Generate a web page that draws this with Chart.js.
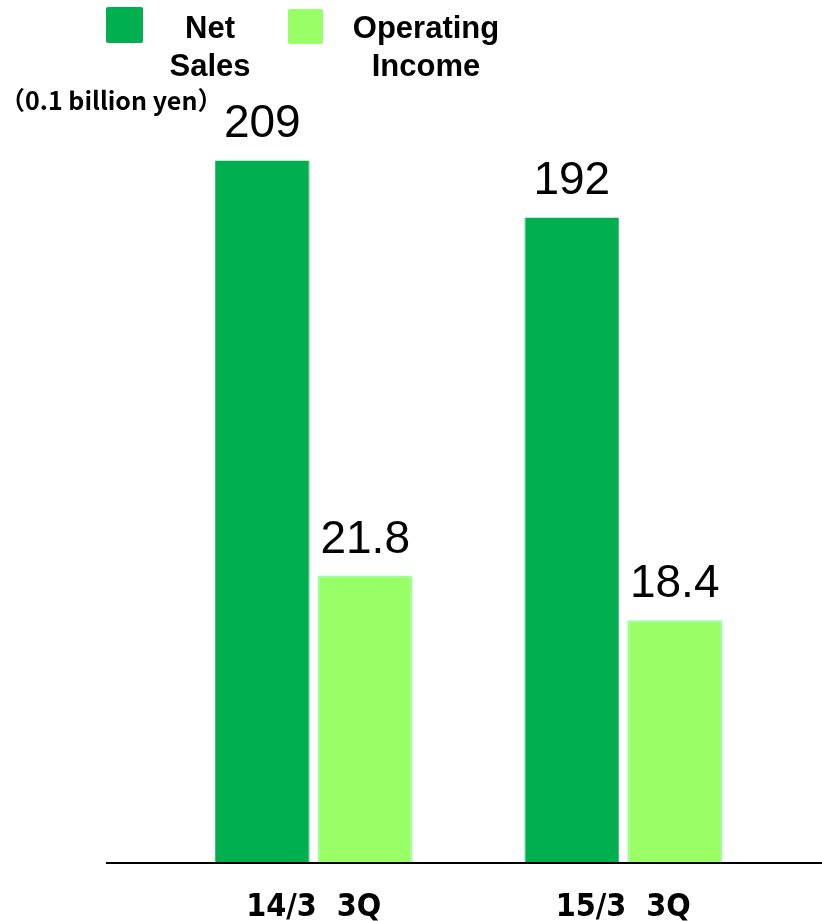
<!DOCTYPE html>
<html>
<head>
<meta charset="utf-8">
<script src="https://cdn.jsdelivr.net/npm/chart.js@4.4.1/dist/chart.umd.min.js"></script>
<style>
    html, body { margin: 0; padding: 0; background: #FFFFFF; }
    #main-graph { display: block; }
</style>
</head>
<body>
<canvas id="main-graph"></canvas>
<script>
const graph_width = 822;
const graph_height = 921;

// quarters and values, in 0.1 billion yen
const periods = ["14/3  3Q", "15/3  3Q"];
const net_sales = [209, 192];
const operating_income = [21.8, 18.4];

const net_sales_label = ["Net", "Sales"];
const income_label = ["Operating", "Income"];
const unit_text = "（0.1 billion yen）";

let main_graph;
let graph_ctx;
let myChart;

// value printed over every bar
const valueLabels = {
    id: "valueLabels",
    afterDatasetsDraw(chart) {
        const ctx = chart.ctx;
        ctx.save();
        ctx.fillStyle = "#000000";
        ctx.font = "46px 'Liberation Sans', Arial, sans-serif";
        ctx.textAlign = "center";
        ctx.textBaseline = "alphabetic";
        chart.data.datasets.forEach((dataset, d) => {
            const meta = chart.getDatasetMeta(d);
            meta.data.forEach((bar, i) => {
                const v = dataset.data[i];
                const txt = d == 0 ? String(v) : v.toFixed(1);
                ctx.fillText(txt, bar.x, bar.y - 23);
            });
        });
        ctx.restore();
    }
};

// legend with two-line names, unit note and the base line
const topLegend = {
    id: "topLegend",
    afterDraw(chart) {
        const ctx = chart.ctx;
        ctx.save();

        const items = [
            {box: [106, 7, 37, 36], cx: 210, lines: net_sales_label, ds: 0},
            {box: [288, 9, 35, 35], cx: 426, lines: income_label, ds: 1}
        ];
        items.forEach(item => {
            ctx.fillStyle = chart.data.datasets[item.ds].backgroundColor;
            ctx.beginPath();
            ctx.roundRect(item.box[0], item.box[1], item.box[2], item.box[3], 2);
            ctx.fill();
            ctx.fillStyle = "#000000";
            ctx.font = "bold 31px 'Liberation Sans', Arial, sans-serif";
            ctx.textAlign = "center";
            item.lines.forEach((line, k) => {
                ctx.fillText(line, item.cx, 38 + k * 38);
            });
        });

        ctx.font = "bold 25px 'Noto Sans CJK JP', sans-serif";
        ctx.textAlign = "left";
        ctx.fillText(unit_text, 0, 110);

        const y = chart.chartArea.bottom + 1;
        ctx.strokeStyle = "#000000";
        ctx.lineWidth = 2;
        ctx.beginPath();
        ctx.moveTo(106, y);
        ctx.lineTo(graph_width, y);
        ctx.stroke();
        ctx.restore();
    }
};

const data = {
    labels: periods,
    datasets: [
        {
            label: "Net Sales",
            data: net_sales,
            backgroundColor: "#00B050",
            borderColor: "#33C070",
            borderWidth: {left: 1, top: 0, right: 1, bottom: 0},
            yAxisID: "y"
        },
        {
            label: "Operating Income",
            data: operating_income,
            backgroundColor: "#99FF66",
            borderColor: "#99FF99",
            borderWidth: {left: 2, top: 2, right: 2, bottom: 0},
            yAxisID: "y1"
        }
    ]
};

const config = {
    type: "bar",
    data: data,
    options: {
        responsive: false,
        animation: false,
        categoryPercentage: 0.665,
        barPercentage: 0.92,
        layout: {
            padding: {left: 159, right: 44, top: 100, bottom: 0}
        },
        plugins: {
            legend: { display: false },
            tooltip: { enabled: false }
        },
        scales: {
            x: {
                grid: { display: false, drawTicks: false },
                border: { display: false },
                afterFit(axis) { axis.height = 59; },
                ticks: {
                    color: "#000000",
                    padding: 26,
                    font: {
                        family: "'Liberation Sans Narrow', 'DejaVu Sans Condensed', sans-serif",
                        size: 32,
                        weight: "bold"
                    }
                }
            },
            y: {
                display: false,
                min: 0,
                max: 227
            },
            y1: {
                display: false,
                min: 0,
                max: 58
            }
        }
    },
    plugins: [valueLabels, topLegend]
};

function initGraph()
{
    main_graph = document.getElementById("main-graph");
    graph_ctx = main_graph.getContext("2d");
    main_graph.width = graph_width;
    main_graph.height = graph_height;
    main_graph.style.width = graph_width + "px";
    main_graph.style.height = graph_height + "px";

    myChart = new Chart(graph_ctx, config);
}

initGraph();
</script>
</body>
</html>
